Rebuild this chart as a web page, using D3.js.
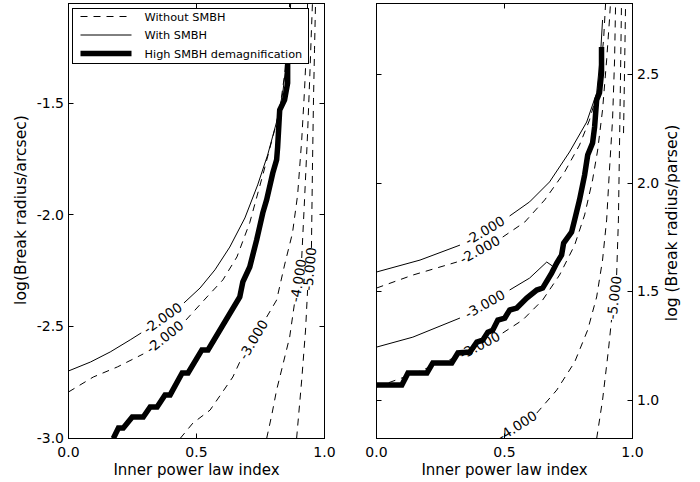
<!DOCTYPE html>
<html><head><meta charset="utf-8">
<script src="https://cdn.jsdelivr.net/npm/d3@7"></script>
<style>
body{margin:0;background:#fff}
svg{display:block}
text{font-family:"DejaVu Sans",sans-serif;fill:#000}
</style>
</head><body>
<svg id="c" width="700" height="482"></svg>
<script>
// ---------- data ----------
const xTicks = [0.0, 0.5, 1.0];
const leftYTicks = [-3.0, -2.5, -2.0, -1.5];
const rightYTicks = [1.0, 1.5, 2.0, 2.5];
const leftYRange = [-3.0, -1.055];
const rightYRange = [0.823, 2.827];
const legendLabels = ["Without SMBH", "With SMBH", "High SMBH demagnification"];
const xLabel = "Inner power law index";
const leftYLabel = "log(Break radius/arcsec)";
const rightYLabel = "log (Break radius/parsec)";

// Left panel (arcsec). null = gap where the contour label sits
const leftWithM2 = [[0.000,-2.698],[0.086,-2.658],[0.163,-2.613],[0.241,-2.559],[0.284,-2.528],null,
  [0.451,-2.394],[0.514,-2.327],[0.572,-2.246],[0.630,-2.144],[0.689,-2.014],[0.739,-1.866],
  [0.778,-1.732],[0.813,-1.584],[0.837,-1.455],[0.852,-1.307],[0.864,-1.128],[0.868,-1.052]];
const leftWithoutM2 = [[0.000,-2.792],[0.097,-2.725],[0.191,-2.680],[0.292,-2.622],null,
  [0.459,-2.470],[0.541,-2.367],[0.603,-2.291],[0.658,-2.188],[0.708,-2.035],[0.759,-1.822],
  [0.798,-1.652],[0.825,-1.531],[0.844,-1.374],[0.856,-1.218],[0.864,-1.052]];
const leftWithoutM3 = [[0.436,-3.000],[0.486,-2.931],[0.553,-2.873],[0.642,-2.725],[0.669,-2.658],null,
  [0.774,-2.457],[0.813,-2.381],[0.844,-2.224],[0.875,-2.081],[0.895,-1.911],[0.911,-1.665],
  [0.922,-1.441],[0.930,-1.240],[0.934,-1.052]];
const leftWithoutM4 = [[0.774,-3.000],[0.794,-2.895],[0.813,-2.783],[0.840,-2.658],[0.864,-2.546],[0.883,-2.394],null,
  [0.911,-2.193],[0.922,-1.933],[0.934,-1.634],[0.942,-1.397],[0.949,-1.173],[0.953,-1.052]];
const leftWithoutM5 = [[0.891,-3.000],[0.911,-2.738],[0.926,-2.515],[0.934,-2.336],null,
  [0.949,-2.148],[0.953,-1.786],[0.957,-1.486],[0.961,-1.262],[0.965,-1.052]];
const leftHighDemag = [[0.175,-3.000],[0.195,-2.953],[0.214,-2.953],[0.249,-2.904],[0.292,-2.904],
  [0.319,-2.859],[0.346,-2.859],[0.377,-2.805],[0.397,-2.805],[0.444,-2.707],[0.467,-2.707],
  [0.521,-2.604],[0.545,-2.604],[0.669,-2.367],[0.681,-2.300],[0.708,-2.233],[0.735,-2.112],
  [0.759,-1.991],[0.774,-1.933],[0.798,-1.813],[0.813,-1.754],[0.817,-1.696],[0.825,-1.531],
  [0.844,-1.486],[0.856,-1.410],[0.856,-1.285]];

// Right panel (parsec)
const rightWithM2 = [[0.000,1.590],[0.170,1.645],[0.326,1.714],null,
  [0.520,1.848],[0.598,1.913],[0.676,2.005],[0.754,2.143],[0.821,2.281],[0.860,2.415],
  [0.875,2.590],[0.883,2.751]];
const rightWithoutM2 = [[0.000,1.516],[0.142,1.576],[0.314,1.636],null,
  [0.493,1.751],[0.579,1.820],[0.657,1.922],[0.735,2.051],[0.793,2.175],[0.832,2.290],
  [0.860,2.406],[0.875,2.521],[0.887,2.659],[0.895,2.829]];
const rightWithM3 = [[0.000,1.244],[0.142,1.290],[0.326,1.378],null,
  [0.520,1.507],[0.598,1.562],[0.665,1.636],[0.688,1.617]];
const rightWithoutM3 = [[0.000,1.060],[0.142,1.120],[0.236,1.166],[0.314,1.198],null,
  [0.493,1.309],[0.571,1.369],[0.649,1.461],[0.715,1.576],[0.774,1.714],[0.813,1.853],
  [0.844,2.014],[0.864,2.152],[0.883,2.337],[0.899,2.567],[0.910,2.751],[0.914,2.829]];
const rightWithoutM4 = [[0.474,0.823],null,
  [0.626,0.940],[0.704,1.046],[0.774,1.175],[0.825,1.323],[0.860,1.475],[0.883,1.645],
  [0.899,1.830],[0.910,2.060],[0.922,2.290],[0.930,2.567],[0.934,2.829]];
const rightWithoutM5 = [[0.860,0.823],[0.883,1.000],[0.906,1.231],[0.918,1.369],null,
  [0.938,1.576],[0.945,1.830],[0.949,2.152],[0.953,2.475],[0.957,2.829]];
const rightWithoutM6 = [[0.965,2.230],[0.969,2.521],[0.973,2.829]];
const rightHighDemag = [[0.000,1.069],[0.099,1.069],[0.123,1.125],[0.197,1.125],[0.220,1.171],
  [0.294,1.171],[0.318,1.217],[0.365,1.221],[0.392,1.267],[0.415,1.276],[0.435,1.313],
  [0.454,1.322],[0.474,1.369],[0.501,1.378],[0.520,1.415],[0.548,1.424],[0.587,1.470],
  [0.626,1.507],[0.649,1.516],[0.684,1.585],[0.704,1.631],[0.723,1.668],[0.731,1.723],
  [0.762,1.774],[0.774,1.830],[0.793,1.922],[0.813,2.037],[0.825,2.129],[0.844,2.184],
  [0.852,2.258],[0.860,2.383],[0.871,2.415],[0.879,2.507],[0.879,2.627]];

// ---------- layout ----------
const svg = d3.select("#c");
const TOP = 3.5, BOTTOM = 438.5;
const DASH = "7,6";
const TICK = 5;

const panels = [
  { id:"L", x0:68.5, x1:324.5, yDomain:leftYRange, yTicks:leftYTicks, side:"left", yLabel:leftYLabel,
    contours:[
      {level:-2, kind:"with", pts:leftWithM2},
      {level:-2, kind:"without", pts:leftWithoutM2},
      {level:-3, kind:"without", pts:leftWithoutM3},
      {level:-4, kind:"without", pts:leftWithoutM4},
      {level:-5, kind:"without", pts:leftWithoutM5}
    ], thick:leftHighDemag, legend:true },
  { id:"R", x0:376.5, x1:632.5, yDomain:rightYRange, yTicks:rightYTicks, side:"right", yLabel:rightYLabel,
    contours:[
      {level:-2, kind:"with", pts:rightWithM2},
      {level:-2, kind:"without", pts:rightWithoutM2},
      {level:-3, kind:"with", pts:rightWithM3},
      {level:-3, kind:"without", pts:rightWithoutM3},
      {level:-4, kind:"without", pts:rightWithoutM4},
      {level:-5, kind:"without", pts:rightWithoutM5},
      {level:-6, kind:"without", pts:rightWithoutM6}
    ], thick:rightHighDemag, legend:false }
];

panels.forEach(p=>{
  const x = d3.scaleLinear().domain([0,1]).range([p.x0,p.x1]);
  const y = d3.scaleLinear().domain(p.yDomain).range([BOTTOM,TOP]);
  const g = svg.append("g");
  const clipId = "clip"+p.id;
  svg.append("clipPath").attr("id",clipId).append("rect")
    .attr("x",p.x0).attr("y",TOP).attr("width",p.x1-p.x0).attr("height",BOTTOM-TOP);
  const plot = g.append("g").attr("clip-path",`url(#${clipId})`);
  const line = d3.line().defined(d=>d!==null).x(d=>x(d[0])).y(d=>y(d[1]));

  p.contours.forEach(c=>{
    plot.append("path").attr("d",line(c.pts)).attr("fill","none")
      .attr("stroke","#000").attr("stroke-width",1)
      .attr("stroke-dasharray", c.kind==="without" ? DASH : null);
  });
  const labels = g.append("g");
  p.contours.forEach(c=>{
    const i = c.pts.indexOf(null);
    if(i>0){
      const a=c.pts[i-1], b=c.pts[i+1];
      const ax=x(a[0]), ay=y(a[1]), bx=x(b[0]), by=y(b[1]);
      const ang = Math.atan2(by-ay,bx-ax)*180/Math.PI;
      labels.append("text")
        .attr("transform",`translate(${(ax+bx)/2},${(ay+by)/2}) rotate(${ang})`)
        .attr("text-anchor","middle").attr("dy","0.36em").attr("font-size",13.5)
        .text(c.level.toFixed(3));
    }
  });
  plot.append("path").attr("d",line(p.thick)).attr("fill","none")
    .attr("stroke","#000").attr("stroke-width",5.5).attr("stroke-linejoin","miter");

  // ticks (inward on all four sides)
  const tk = g.append("g").attr("stroke","#000").attr("stroke-width",1);
  xTicks.forEach(v=>{
    const px = Math.round(x(v)-0.5)+0.5;
    tk.append("line").attr("x1",px).attr("x2",px).attr("y1",BOTTOM).attr("y2",BOTTOM-TICK);
    tk.append("line").attr("x1",px).attr("x2",px).attr("y1",TOP).attr("y2",TOP+TICK);
    g.append("text").attr("x",x(v)).attr("y",BOTTOM+8.5).attr("dy","0.71em")
      .attr("text-anchor","middle").attr("font-size",14).text(v.toFixed(1));
  });
  p.yTicks.forEach(v=>{
    const py = Math.round(y(v)-0.5)+0.5;
    tk.append("line").attr("x1",p.x0).attr("x2",p.x0+TICK).attr("y1",py).attr("y2",py);
    tk.append("line").attr("x1",p.x1).attr("x2",p.x1-TICK).attr("y1",py).attr("y2",py);
    if(p.side==="left"){
      g.append("text").attr("x",p.x0-4.5).attr("y",y(v)).attr("dy","0.34em")
        .attr("text-anchor","end").attr("font-size",14).text(v.toFixed(1));
    } else {
      g.append("text").attr("x",p.x1+4.5).attr("y",y(v)).attr("dy","0.34em")
        .attr("text-anchor","start").attr("font-size",14).text(v.toFixed(1));
    }
  });
  g.append("rect").attr("x",p.x0).attr("y",TOP).attr("width",p.x1-p.x0).attr("height",BOTTOM-TOP)
    .attr("fill","none").attr("stroke","#000").attr("stroke-width",1);

  // axis labels
  g.append("text").attr("x",(p.x0+p.x1)/2).attr("y",474.5).attr("text-anchor","middle")
    .attr("font-size",15).text(xLabel);
  const lx = p.side==="left" ? 25.5 : 677;
  const ly = p.side==="left" ? 210 : 223;
  g.append("text").attr("transform",`translate(${lx},${ly}) rotate(-90)`).attr("text-anchor","middle")
    .attr("font-size",15.6).text(p.yLabel);

  // legend
  if(p.legend){
    const lg = g.append("g");
    lg.append("rect").attr("x",72.5).attr("y",8.5).attr("width",236).attr("height",55)
      .attr("fill","#fff").attr("stroke","#000").attr("stroke-width",1);
    const rowY = d3.scalePoint().domain(legendLabels).range([16.5,53.5]);
    const styles = [{w:1,d:DASH},{w:1,d:null},{w:5.5,d:null}];
    legendLabels.forEach((t,i)=>{
      lg.append("line").attr("x1",80.5).attr("x2",131.5).attr("y1",rowY(t)).attr("y2",rowY(t))
        .attr("stroke","#000").attr("stroke-width",styles[i].w).attr("stroke-dasharray",styles[i].d);
      lg.append("text").attr("x",144.5).attr("y",rowY(t)).attr("dy","0.36em").attr("font-size",11.3).text(t);
    });
  }
});
</script>
</body></html>
